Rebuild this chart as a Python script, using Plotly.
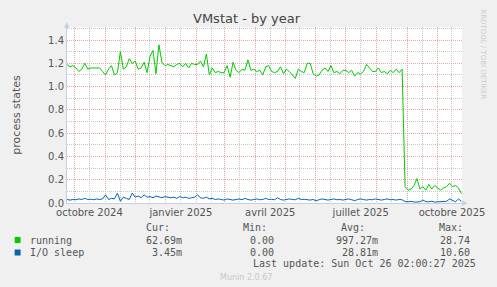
import plotly.graph_objects as go
import pandas as pd

# ---- data ----
running = [
    1.19, 1.17, 1.18, 1.16, 1.13, 1.15, 1.20, 1.15, 1.16, 1.16,
    1.16, 1.16, 1.13, 1.10, 1.15, 1.18, 1.10, 1.12, 1.30, 1.15,
    1.17, 1.24, 1.20, 1.22, 1.15, 1.16, 1.21, 1.12, 1.26, 1.31,
    1.11, 1.36, 1.21, 1.18, 1.19, 1.18, 1.17, 1.19, 1.20, 1.17,
    1.20, 1.16, 1.20, 1.19, 1.19,
    1.22, 1.17, 1.28, 1.10, 1.16, 1.12, 1.13, 1.12, 1.12, 1.18,
    1.08, 1.21, 1.14, 1.12, 1.15, 1.14, 1.23, 1.14, 1.15, 1.13,
    1.14, 1.10, 1.17, 1.18, 1.13, 1.12, 1.13, 1.17, 1.11, 1.15,
    1.13, 1.10, 1.07, 1.15, 1.13, 1.12, 1.20, 1.20, 1.11, 1.09,
    1.10, 1.14, 1.16, 1.13, 1.18,
    1.12, 1.13, 1.11, 1.14, 1.14, 1.12, 1.14, 1.09, 1.12, 1.11,
    1.13, 1.19, 1.16, 1.13, 1.13, 1.16, 1.12, 1.13, 1.11, 1.14,
    1.12, 1.15, 1.12, 1.15,
    0.14, 0.11, 0.12, 0.15, 0.21, 0.12,
    0.14, 0.11, 0.16, 0.12, 0.15, 0.13, 0.11, 0.13, 0.14, 0.17,
    0.14, 0.15, 0.13, 0.08,
]
io_sleep = [
    0.030, 0.025, 0.030, 0.028, 0.035, 0.030, 0.040, 0.030, 0.032, 0.028, 0.035, 0.030,
    0.035, 0.070, 0.030, 0.040, 0.035, 0.085, 0.015, 0.050, 0.040, 0.030, 0.085,
    0.050, 0.060, 0.045, 0.070, 0.050, 0.055, 0.045, 0.060, 0.050, 0.045, 0.055,
    0.050, 0.045, 0.050, 0.040, 0.055, 0.045, 0.050, 0.040, 0.045, 0.050, 0.070,
    0.045, 0.040, 0.050, 0.035, 0.040, 0.030, 0.035, 0.030, 0.025, 0.035, 0.030, 0.025,
    0.030, 0.035, 0.028, 0.040, 0.030, 0.025, 0.030, 0.035, 0.028, 0.030, 0.040, 0.030,
    0.032, 0.028, 0.045, 0.030, 0.025, 0.030, 0.035, 0.030, 0.028, 0.040, 0.030, 0.032,
    0.030, 0.025, 0.030, 0.020, 0.028, 0.035, 0.030, 0.025, 0.030, 0.035, 0.028, 0.030,
    0.025, 0.030, 0.035, 0.028, 0.020, 0.030, 0.035, 0.030, 0.025, 0.030, 0.028, 0.035,
    0.030, 0.025, 0.030, 0.035, 0.028, 0.030, 0.025, 0.030, 0.028,
    0.012, 0.010, 0.015, 0.008, 0.012, 0.010, 0.025, 0.012, 0.010, 0.015,
    0.008, 0.010, 0.012, 0.010, 0.015, 0.035, 0.020, 0.010, 0.035, 0.015,
]
dates = pd.date_range("2024-09-23 12:00", "2025-10-25 12:00", periods=len(running))

month_starts = pd.date_range("2024-10-01", "2025-10-01", freq="MS")
month_labels = {
    "2024-10": "octobre 2024",
    "2025-01": "janvier 2025",
    "2025-04": "avril 2025",
    "2025-07": "juillet 2025",
    "2025-10": "octobre 2025",
}
tick_text = [month_labels.get(d.strftime("%Y-%m"), "") for d in month_starts]
mid_months = [d + pd.Timedelta(days=15) for d in month_starts]

legend_rows = [
    ("running", "#00CC00", "62.69m", "0.00", "997.27m", "28.74"),
    ("I/O sleep", "#0066B3", "3.45m", "0.00", "28.81m", "10.60"),
]

# ---- geometry helpers (pixels -> paper) ----
W, H = 497, 287
L, R, T, B = 67, 467, 27, 203
def px(x):
    return (x - L) / (R - L)
def py(y):
    return (B - y) / (B - T)

fig = go.Figure()
fig.add_trace(go.Scatter(x=dates, y=running, mode="lines", name="running",
                         line=dict(color="#00CC00", width=1)))
fig.add_trace(go.Scatter(x=dates, y=io_sleep, mode="lines", name="I/O sleep",
                         line=dict(color="#0066B3", width=1)))

grid_major = "#E8A4A4"
grid_minor = "#C8C8C8"
axis_col = "#C8CCE8"
dash = "1px,1px"

fig.update_layout(
    width=W, height=H,
    margin=dict(l=L, r=W - R, t=T, b=H - B),
    paper_bgcolor="#F0F0F0", plot_bgcolor="#FFFFFF",
    showlegend=False,
    font=dict(family="DejaVu Sans", size=10, color="#555555"),
    xaxis=dict(
        type="date",
        range=["2024-09-23 12:00", "2025-10-26 02:00"],
        tickmode="array", tickvals=list(month_starts), ticktext=tick_text,
        ticklabelshift=15, ticks="", showgrid=True,
        gridcolor=grid_major, griddash=dash, gridwidth=1,
        showline=True, linecolor=axis_col, linewidth=1,
        zeroline=False, tickfont=dict(size=10, color="#555555"),
        minor=dict(tickmode="array", tickvals=mid_months, showgrid=True,
                   gridcolor=grid_minor, griddash=dash, gridwidth=1),
    ),
    yaxis=dict(
        range=[0, 1.512], tickmode="linear", tick0=0, dtick=0.2,
        tickformat=".1f", ticks="", showgrid=True,
        gridcolor=grid_major, griddash=dash, gridwidth=1,
        showline=True, linecolor=axis_col, linewidth=1, zeroline=False,
        tickfont=dict(size=10, color="#555555"),
        minor=dict(dtick=0.1, showgrid=True, gridcolor=grid_minor,
                   griddash=dash, gridwidth=1),
    ),
)

ann = []
def text(x, y, s, size=10, color="#555555", family="DejaVu Sans", xanchor="center", angle=0):
    ann.append(dict(x=px(x), y=py(y), xref="paper", yref="paper", text=s,
                    showarrow=False, xanchor=xanchor, yanchor="middle",
                    textangle=angle,
                    font=dict(size=size, color=color, family=family)))

text(249, 18, "VMstat - by year", size=13, color="#444444")
text(15, 115, "process states", size=11, color="#555555", angle=-90)
text(488, 54, "RRDTOOL / TOBI OETIKER", size=7, color="#CCCCCC", angle=90)
text(67, 25, "▲", size=7, color=axis_col)
text(470, 203, "▶", size=7, color=axis_col)

mono = "DejaVu Sans Mono"
cols_right = [185, 279, 384, 477]
for hdr, xr in zip(["Cur:", "Min:", "Avg:", "Max:"], [173, 272, 371, 470]):
    text(xr, 227.5, hdr, family=mono, xanchor="right")
shapes = []
for i, (name, col, *vals) in enumerate(legend_rows):
    yy = 240 + i * 12.5
    shapes.append(dict(type="rect", xref="paper", yref="paper",
                       x0=px(14), x1=px(20), y0=py(yy - 3), y1=py(yy + 3),
                       fillcolor=col, line=dict(width=0)))
    text(27, yy, name, family=mono, xanchor="left")
    for v, xr in zip(vals, cols_right):
        text(xr, yy, v, family=mono, xanchor="right")
text(483, 263.5, "Last update: Sun Oct 26 02:00:27 2025", family=mono, xanchor="right")
text(248, 277, "Munin 2.0.67", size=8, color="#C8C8C8")

fig.update_layout(annotations=ann, shapes=shapes)
fig.write_html("out.html")
